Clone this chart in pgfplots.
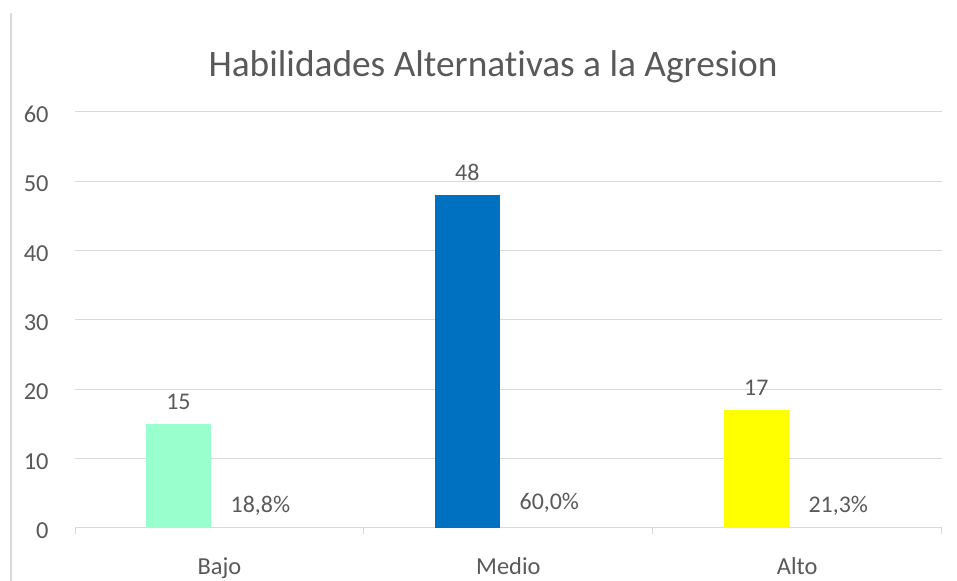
\documentclass[border=0pt]{standalone}
\usepackage{fontspec}
\setmainfont{Carlito}[Ligatures=NoCommon]
\usepackage{pgfplots}
\pgfplotsset{compat=1.18}
\definecolor{txtgray}{HTML}{595959}
\definecolor{gridgray}{HTML}{D9D9D9}
\definecolor{mint}{HTML}{99FFCC}
\definecolor{xlblue}{HTML}{0070C0}
\definecolor{xlyellow}{HTML}{FFFF00}

\begin{document}
\begin{tikzpicture}
  % picture frame, in px of the reference (axis origin at 75,527.7)
  \path[use as bounding box] (-75bp,-53.3bp) rectangle (882bp,527.7bp);
  \draw[gridgray, line width=2bp] (-64bp,-53.3bp) -- (-64bp,514.7bp);
  \begin{axis}[
    at={(0,0)}, anchor=south west,
    scale only axis,
    width=866.7bp, height=416bp,
    xmin=-0.5, xmax=2.5,
    ymin=0, ymax=60,
    ytick={0,10,...,60},
    xtick={0,1,2},
    xticklabels={Bajo,Medio,Alto},
    minor xtick={-0.5,0.5,1.5,2.5},
    major x tick style={draw=none},
    minor x tick style={draw=gridgray, line width=1pt},
    minor tick length=6bp,
    tick align=outside,
    ymajorgrids,
    grid style={gridgray, line width=1pt},
    axis x line*=bottom, axis y line*=left,
    y axis line style={draw=none},
    ytick style={draw=none},
    x axis line style={gridgray, line width=1pt},
    tick label style={font=\fontsize{24.5}{29}\selectfont, text=txtgray},
    /pgf/number format/assume math mode=true,
    x tick label style={anchor=base, yshift=-43bp, inner sep=0pt},
    y tick label style={anchor=east, xshift=-22bp, yshift=-3bp, inner sep=0pt},
    ybar, bar width=65bp,
    nodes near coords,
    point meta=explicit symbolic,
    every node near coord/.append style={font=\fontsize{24}{29}\selectfont,
      text=txtgray, anchor=base, inner sep=0pt, yshift=14bp},
  ]
  % frecuencias
  \addplot[fill=mint, draw=none, bar shift=-41bp] coordinates {(0,15) [15]};
  \addplot[fill=xlblue, draw=none, bar shift=-41bp] coordinates {(1,48) [48]};
  \addplot[fill=xlyellow, draw=none, bar shift=-41bp] coordinates {(2,17) [17]};
  % porcentajes
  \addplot[draw=none, fill=none, bar shift=41bp] coordinates {
    (0,0.188) [18,8\%] (1,0.600) [60,0\%] (2,0.213) [21,3\%]
  };
  \end{axis}
  \node[anchor=base, font=\fontsize{37.5}{45}\selectfont, text=txtgray, inner sep=0pt]
    at (418bp,450.7bp) {Habilidades Alternativas a la Agresion};
\end{tikzpicture}
\end{document}
